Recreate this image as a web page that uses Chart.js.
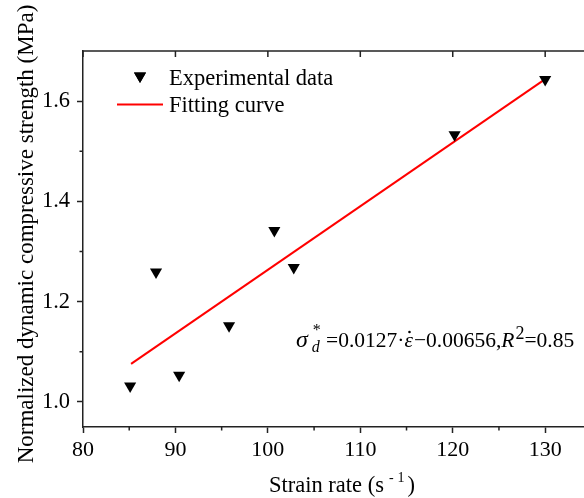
<!DOCTYPE html>
<html>
<head>
<meta charset="utf-8">
<script src="https://cdn.jsdelivr.net/npm/chart.js@4/dist/chart.umd.min.js"></script>
<style>
html,body{margin:0;padding:0;background:#fff;}
#wrap{width:584px;height:498px;}
</style>
</head>
<body>
<div id="wrap"><canvas id="c" width="584" height="498"></canvas></div>
<script>
// ---- data ----
const strainRate = [85.1, 87.9, 90.4, 95.8, 100.7, 102.8, 120.2, 130.0];
const strength   = [1.032, 1.259, 1.053, 1.152, 1.342, 1.268, 1.533, 1.643];
const fitX = [85.2, 130.0];
const fitY = [1.076, 1.644];
const xTicks = [80, 90, 100, 110, 120, 130];
const xMinor = [85, 95, 105, 115, 125];
const yTicks = [1.0, 1.2, 1.4, 1.6];
const yMinor = [1.1, 1.3, 1.5];
const seriesNames = ['Experimental data', 'Fitting curve'];
const xTitle = ['Strain rate (s', '-', '1', ')'];
const yTitle = 'Normalized dynamic compressive strength (MPa)';
const equation = {coef: '0.0127', intercept: '0.00656', r2: '0.85'};

const SERIF = '"Liberation Serif", "Times New Roman", serif';
const AXIS = '#222';

const extras = {
  id: 'extras',
  afterDraw(chart) {
    const ctx = chart.ctx, a = chart.chartArea;
    const xs = chart.scales.x, ys = chart.scales.y;
    ctx.save();
    ctx.strokeStyle = AXIS; ctx.lineWidth = 1.5;
    // top border
    ctx.beginPath(); ctx.moveTo(a.left, a.top); ctx.lineTo(a.right, a.top); ctx.stroke();
    ctx.beginPath();
    xTicks.forEach(v => { const p = xs.getPixelForValue(v); ctx.moveTo(p, a.top); ctx.lineTo(p, a.top + 6); });
    xMinor.forEach(v => { const p = xs.getPixelForValue(v); ctx.moveTo(p, a.bottom); ctx.lineTo(p, a.bottom + 3.5); });
    yMinor.forEach(v => { const p = ys.getPixelForValue(v); ctx.moveTo(a.left, p); ctx.lineTo(a.left - 3.5, p); });
    ctx.stroke();

    ctx.fillStyle = '#000';
    // legend
    Chart.helpers.drawPoint(ctx, {pointStyle: 'triangle', rotation: 180, radius: 7, borderWidth: 0}, 140, 76);
    ctx.fill();
    ctx.strokeStyle = '#ff0000'; ctx.lineWidth = 2;
    ctx.beginPath(); ctx.moveTo(117, 104.5); ctx.lineTo(163, 104.5); ctx.stroke();
    ctx.font = '22.5px ' + SERIF;
    ctx.textBaseline = 'alphabetic'; ctx.textAlign = 'left';
    ctx.fillText(seriesNames[0], 169, 85);
    ctx.fillText(seriesNames[1], 169, 112);

    // x title with superscript
    let x = 269, base = 492;
    ctx.font = '22.5px ' + SERIF;
    ctx.fillText(xTitle[0], x, base); x += ctx.measureText(xTitle[0]).width + 5;
    ctx.font = '14px ' + SERIF;
    ctx.fillText(xTitle[1], x, base - 10); x += ctx.measureText(xTitle[1]).width + 4;
    ctx.fillText(xTitle[2], x, base - 10); x += ctx.measureText(xTitle[2]).width + 3;
    ctx.font = '22.5px ' + SERIF;
    ctx.fillText(xTitle[3], x, base);

    // y title rotated
    ctx.save();
    ctx.translate(33, 234); ctx.rotate(-Math.PI / 2);
    ctx.font = '23px ' + SERIF; ctx.textAlign = 'center';
    ctx.fillText(yTitle, 0, 0);
    ctx.restore();

    // equation
    base = 347; x = 296;
    ctx.font = 'italic 24px ' + SERIF;
    ctx.fillText('\u03C3', x, base); x += ctx.measureText('\u03C3').width + 5;
    ctx.font = '16px ' + SERIF; ctx.fillText('*', x, base - 12);
    ctx.font = 'italic 16px ' + SERIF; ctx.fillText('d', x - 1, base + 5);
    x = 326;
    ctx.font = '21.5px ' + SERIF;
    let s = '=' + equation.coef + '\u00B7';
    ctx.fillText(s, x, base); x += ctx.measureText(s).width;
    ctx.font = 'italic 21.5px ' + SERIF;
    ctx.fillText('\u03B5', x, base);
    const ew = ctx.measureText('\u03B5').width;
    ctx.beginPath(); ctx.arc(x + ew * 0.6, base - 15, 1.3, 0, Math.PI * 2); ctx.fill();
    x += ew + 1;
    ctx.font = '21.5px ' + SERIF;
    s = '\u2212' + equation.intercept + ',';
    ctx.fillText(s, x, base); x += ctx.measureText(s).width;
    ctx.font = 'italic 21.5px ' + SERIF;
    ctx.fillText('R', x, base); x += ctx.measureText('R').width + 1;
    ctx.font = '18px ' + SERIF;
    ctx.fillText('2', x, base - 8); x += ctx.measureText('2').width;
    ctx.font = '21.5px ' + SERIF;
    ctx.fillText('=' + equation.r2, x, base);
    ctx.restore();
  }
};

new Chart(document.getElementById('c'), {
  type: 'scatter',
  data: {
    datasets: [
      {
        label: seriesNames[0],
        data: strainRate.map((v, i) => ({x: v, y: strength[i]})),
        pointStyle: 'triangle', rotation: 180, pointRadius: 7, pointHoverRadius: 7,
        backgroundColor: '#000', borderColor: '#000', borderWidth: 0, order: 1
      },
      {
        label: seriesNames[1],
        data: fitX.map((v, i) => ({x: v, y: fitY[i]})),
        showLine: true, borderColor: '#ff0000', borderWidth: 2, pointRadius: 0, fill: false, order: 2
      }
    ]
  },
  options: {
    responsive: false, animation: false, devicePixelRatio: 1,
    layout: {autoPadding: false, padding: {top: 51, right: 0, left: 0, bottom: 0}},
    plugins: {legend: {display: false}, tooltip: {enabled: false}},
    scales: {
      x: {
        type: 'linear', min: 80, max: 134.2,
        afterBuildTicks(s) { s.ticks = xTicks.map(v => ({value: v})); },
        afterFit(s) { s.height = 71; s.paddingRight = 0; s.paddingLeft = 0; },
        ticks: {font: {family: SERIF, size: 22}, color: '#000', padding: 4, maxRotation: 0},
        grid: {drawOnChartArea: false, drawTicks: true, tickLength: 6, tickColor: AXIS, tickWidth: 1.5},
        border: {display: true, color: AXIS, width: 1.5}
      },
      y: {
        type: 'linear', min: 0.95, max: 1.7,
        afterBuildTicks(s) { s.ticks = yTicks.map(v => ({value: v})); },
        afterFit(s) { s.width = 83; s.paddingTop = 0; s.paddingBottom = 0; },
        ticks: {font: {family: SERIF, size: 22.5}, color: '#000', padding: 7, callback: v => v.toFixed(1)},
        grid: {drawOnChartArea: false, drawTicks: true, tickLength: 6, tickColor: AXIS, tickWidth: 1.5},
        border: {display: true, color: AXIS, width: 1.5}
      }
    }
  },
  plugins: [extras]
});
</script>
</body>
</html>
